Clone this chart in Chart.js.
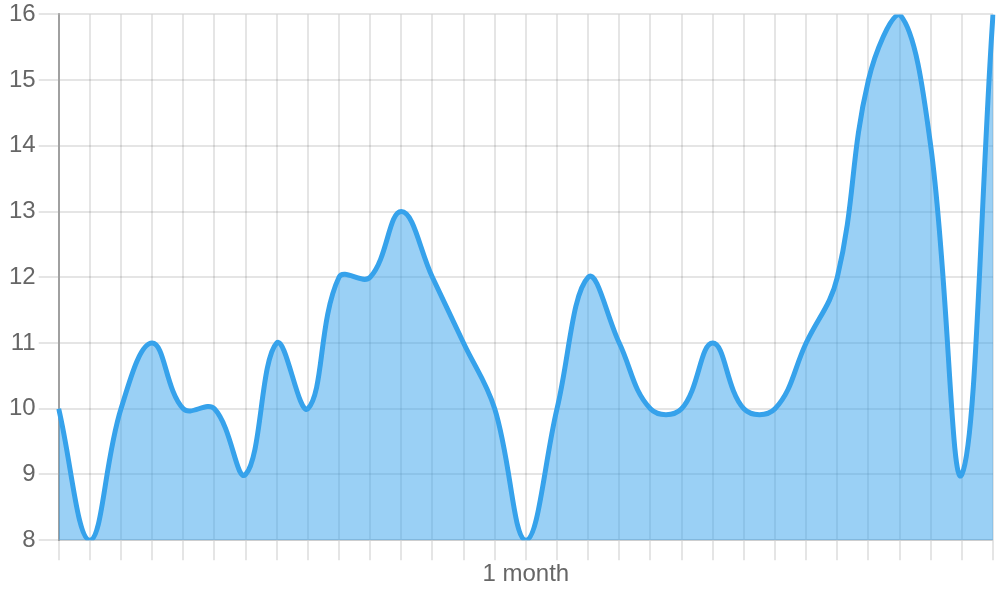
<!DOCTYPE html>
<html>
<head>
  <meta charset="UTF-8">
  <title>Line chart</title>
  <script src="https://cdn.jsdelivr.net/npm/chart.js"></script>
  <style>
    html, body { margin: 0; padding: 0; background: #fff; }
    #wrap { width: 1000px; height: 600px; }
  </style>
</head>
<body>
  <div id="wrap"><canvas id="chart" width="1000" height="600"></canvas></div>

  <script>
    // x labels: only the middle one is shown
    const labels = ['', '', '', '', '', '', '', '', '', '', '', '', '', '', '', '1 month',
                    '', '', '', '', '', '', '', '', '', '', '', '', '', '', ''];
    const values = [10, 8, 10, 11, 10, 10, 9, 11, 10, 12, 12, 13, 12, 11, 10, 8,
                    10, 12, 11, 10, 10, 11, 10, 10, 11, 12, 15, 16, 14, 9, 16];
    const yMin = 8;
    const yMax = 16;

    const ctx = document.getElementById('chart').getContext('2d');
    new Chart(ctx, {
      type: 'line',
      data: {
        labels: labels,
        datasets: [{
          data: values,
          borderColor: 'rgb(54, 162, 235)',
          backgroundColor: 'rgba(54, 162, 235, 0.5)',
          borderWidth: 5,
          pointRadius: 0,
          fill: 'start',
          tension: 0.4
        }]
      },
      options: {
        responsive: false,
        animation: false,
        layout: { padding: { top: 5, bottom: 11, left: 6, right: 7 } },
        plugins: {
          legend: { display: false },
          tooltip: { enabled: false }
        },
        scales: {
          x: {
            border: { color: 'rgba(0,0,0,0.1)', width: 2 },
            grid: { color: 'rgba(0,0,0,0.1)', lineWidth: 2, tickLength: 20 },
            ticks: { autoSkip: false, maxRotation: 0, padding: 0, color: '#666', font: { size: 24 } }
          },
          y: {
            min: yMin,
            max: yMax,
            border: { color: 'rgba(0,0,0,0.3)', width: 2 },
            grid: { color: 'rgba(0,0,0,0.1)', lineWidth: 2, tickLength: 20 },
            ticks: { stepSize: 1, color: '#666', font: { size: 24, lineHeight: 0.95 } }
          }
        }
      }
    });
  </script>
</body>
</html>
